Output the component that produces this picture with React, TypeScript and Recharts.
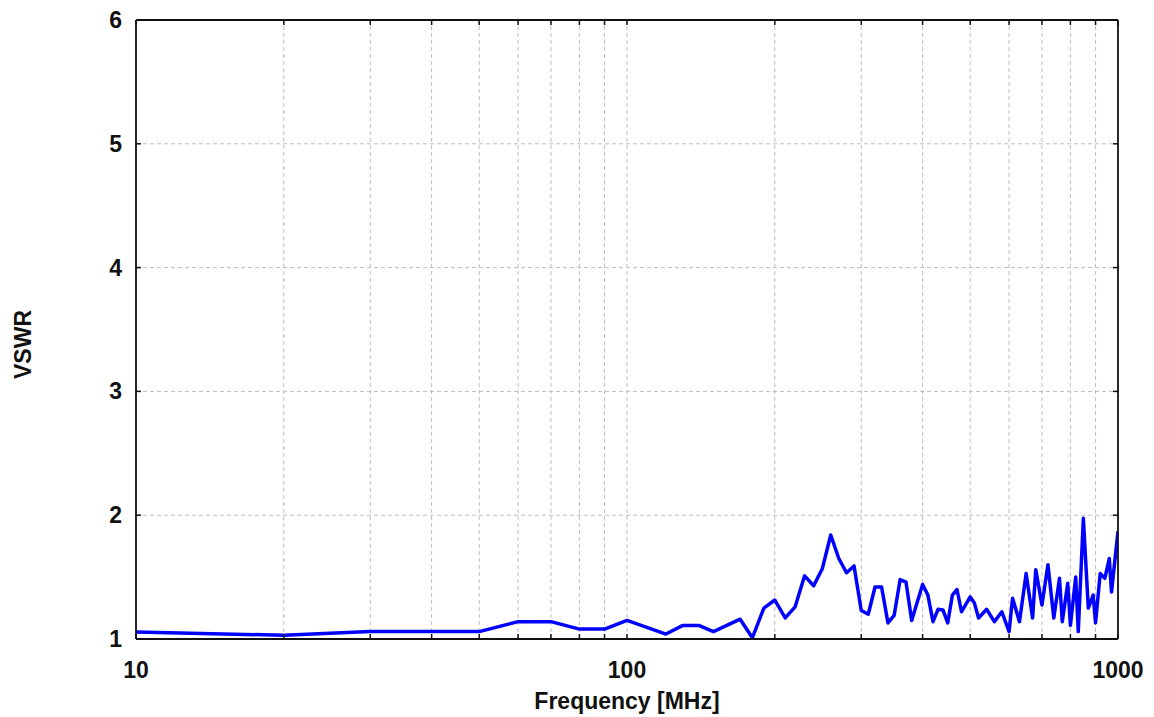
import { LineChart, Line, XAxis, YAxis, ReferenceLine } from "recharts";

const freqs = [
  10, 20, 30, 40, 50, 60, 70, 80, 90, 100,
  120, 130, 140, 150, 170, 180, 190, 200, 210, 220,
  230, 240, 250, 260, 270, 280, 290, 300, 310, 320,
  330, 340, 350, 360, 370, 380, 400, 410, 420, 430,
  440, 450, 460, 470, 480, 500, 510, 520, 540, 560,
  580, 600, 610, 630, 650, 670, 680, 700, 720, 740,
  760, 770, 790, 800, 820, 830, 850, 870, 890, 900,
  920, 940, 960, 970, 1000,
];
const vswr = [
  1.057, 1.03, 1.06, 1.06, 1.06, 1.14, 1.14, 1.08, 1.08, 1.15,
  1.04, 1.11, 1.11, 1.06, 1.16, 1.01, 1.25, 1.315, 1.17, 1.26,
  1.51, 1.43, 1.57, 1.84, 1.65, 1.535, 1.59, 1.23, 1.2, 1.42,
  1.42, 1.13, 1.19, 1.48, 1.46, 1.15, 1.44, 1.355, 1.14, 1.24,
  1.235, 1.13, 1.355, 1.4, 1.22, 1.34, 1.29, 1.17, 1.24, 1.14,
  1.22, 1.06, 1.33, 1.14, 1.53, 1.17, 1.56, 1.275, 1.6, 1.17,
  1.49, 1.14, 1.45, 1.11, 1.5, 1.06, 1.975, 1.25, 1.355, 1.13,
  1.53, 1.49, 1.65, 1.38, 1.87,
];

const xTicks = [10, 20, 30, 40, 50, 60, 70, 80, 90, 100, 200, 300, 400, 500, 600, 700, 800, 900, 1000];
const xLabels = [10, 100, 1000];
const xGrid = [20, 30, 40, 50, 60, 70, 80, 90, 100, 200, 300, 400, 500, 600, 700, 800, 900];
const yTicks = [1, 2, 3, 4, 5, 6];
const yGrid = [2, 3, 4, 5];

const data = freqs.map((f, i) => ({ freq: f, vswr: vswr[i] }));

const FONT = "'Liberation Sans', Arial, sans-serif";
const TICK_LEN = 5;
const frame = { stroke: "#111", strokeWidth: 1.8 };

const BottomTick = ({ x, y, payload }: any) => (
  <g>
    <line x1={x} y1={y} x2={x} y2={y - TICK_LEN} stroke="#111" strokeWidth={1.5} />
    {xLabels.includes(payload.value) && (
      <text x={x} y={y + 39} textAnchor="middle" fontFamily={FONT} fontWeight="bold" fontSize={23} fill="#111">
        {payload.value}
      </text>
    )}
  </g>
);

const TopTick = ({ x, y }: any) => (
  <line x1={x} y1={y} x2={x} y2={y + TICK_LEN} stroke="#111" strokeWidth={1.5} />
);

const LeftTick = ({ x, y, payload }: any) => (
  <g>
    <line x1={x} y1={y} x2={x + TICK_LEN} y2={y} stroke="#111" strokeWidth={1.5} />
    <text x={x - 14} y={y + 8} textAnchor="end" fontFamily={FONT} fontWeight="bold" fontSize={23} fill="#111">
      {payload.value}
    </text>
  </g>
);

const RightTick = ({ x, y }: any) => (
  <line x1={x} y1={y} x2={x - TICK_LEN} y2={y} stroke="#111" strokeWidth={1.5} />
);

const XTitle = ({ viewBox }: any) => (
  <text
    x={viewBox.x + viewBox.width / 2}
    y={viewBox.y + 70}
    textAnchor="middle"
    fontFamily={FONT}
    fontWeight="bold"
    fontSize={23}
    fill="#111"
  >
    Frequency [MHz]
  </text>
);

const YTitle = ({ viewBox }: any) => {
  const cx = viewBox.x + 31;
  const cy = viewBox.y + viewBox.height / 2 + 15;
  return (
    <text
      x={cx}
      y={cy}
      textAnchor="middle"
      transform={`rotate(-90, ${cx}, ${cy})`}
      fontFamily={FONT}
      fontWeight="bold"
      fontSize={23}
      fill="#111"
    >
      VSWR
    </text>
  );
};

export default function App() {
  return (
    <div style={{ position: "absolute", left: 0, top: 0, background: "#fff" }}>
      <LineChart width={1154} height={717} data={data} margin={{ top: 19, right: 35, bottom: 0, left: 0 }}>
        <XAxis
          xAxisId="bottom"
          dataKey="freq"
          type="number"
          scale="log"
          domain={[10, 1000]}
          allowDataOverflow
          ticks={xTicks}
          interval={0}
          tickSize={0}
          tickMargin={0}
          tick={<BottomTick />}
          axisLine={frame}
          tickLine={false}
          height={78}
          label={<XTitle />}
        />
        <XAxis
          xAxisId="top"
          orientation="top"
          dataKey="freq"
          type="number"
          scale="log"
          domain={[10, 1000]}
          allowDataOverflow
          ticks={xTicks}
          interval={0}
          tickSize={0}
          tickMargin={0}
          tick={<TopTick />}
          axisLine={frame}
          tickLine={false}
          height={1}
        />
        <YAxis
          yAxisId="left"
          type="number"
          domain={[1, 6]}
          allowDataOverflow
          ticks={yTicks}
          interval={0}
          tickSize={0}
          tickMargin={0}
          tick={<LeftTick />}
          axisLine={frame}
          tickLine={false}
          width={136}
          label={<YTitle />}
        />
        <YAxis
          yAxisId="right"
          orientation="right"
          type="number"
          domain={[1, 6]}
          allowDataOverflow
          ticks={yTicks}
          interval={0}
          tickSize={0}
          tickMargin={0}
          tick={<RightTick />}
          axisLine={frame}
          tickLine={false}
          width={1}
        />
        {xGrid.map((v) => (
          <ReferenceLine
            key={`gx${v}`}
            x={v}
            xAxisId="bottom"
            yAxisId="left"
            stroke="#bdbdbd"
            strokeWidth={1}
            strokeDasharray="4 3"
          />
        ))}
        {yGrid.map((v) => (
          <ReferenceLine
            key={`gy${v}`}
            y={v}
            xAxisId="bottom"
            yAxisId="left"
            stroke="#bdbdbd"
            strokeWidth={1}
            strokeDasharray="4 3"
          />
        ))}
        <Line
          xAxisId="bottom"
          yAxisId="left"
          type="linear"
          dataKey="vswr"
          stroke="#0000ff"
          strokeWidth={3.5}
          strokeLinejoin="round"
          dot={false}
          activeDot={false}
          isAnimationActive={false}
        />
      </LineChart>
    </div>
  );
}
